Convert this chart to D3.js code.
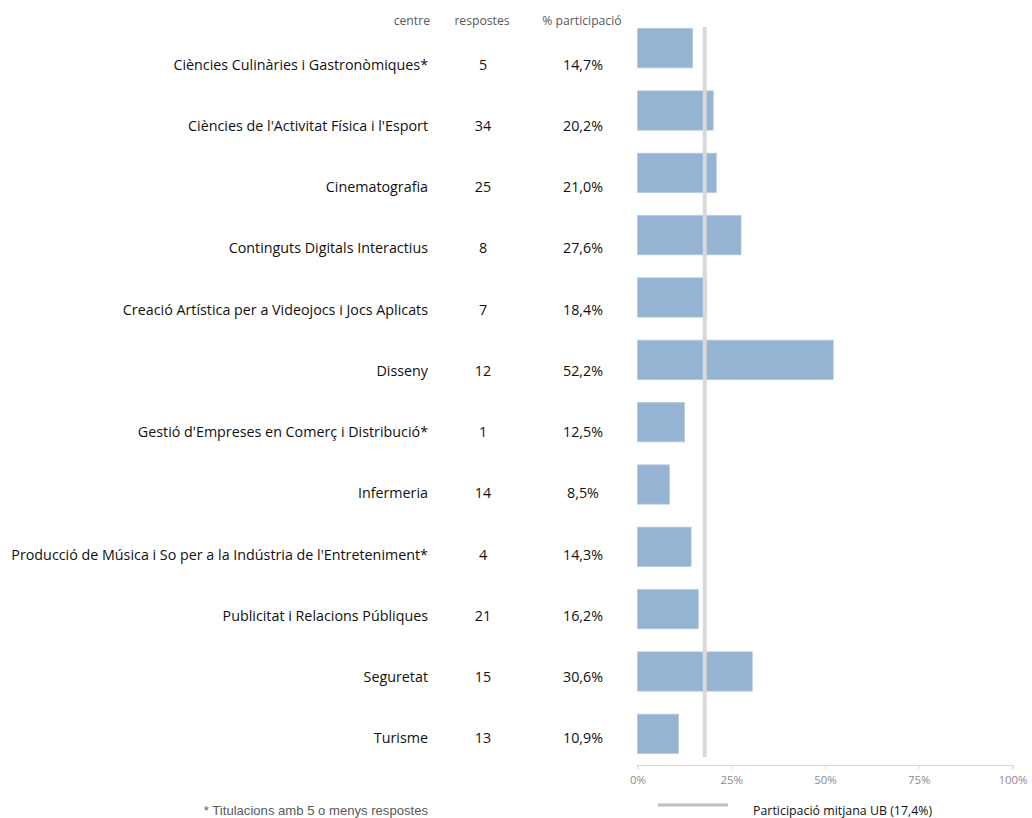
<!DOCTYPE html>
<html><head><meta charset="utf-8">
<script src="https://cdn.jsdelivr.net/npm/d3@7"></script>
<style>body{margin:0;background:#fff}svg{display:block}</style>
</head><body>
<svg id="c" width="1032" height="818"></svg>
<script>
const centres = [
  "Ciències Culinàries i Gastronòmiques*",
  "Ciències de l'Activitat Física i l'Esport",
  "Cinematografia",
  "Continguts Digitals Interactius",
  "Creació Artística per a Videojocs i Jocs Aplicats",
  "Disseny",
  "Gestió d'Empreses en Comerç i Distribució*",
  "Infermeria",
  "Producció de Música i So per a la Indústria de l'Entreteniment*",
  "Publicitat i Relacions Públiques",
  "Seguretat",
  "Turisme"
];
const respostes = [5, 34, 25, 8, 7, 12, 1, 14, 4, 21, 15, 13];
const participacio = [14.7, 20.2, 21.0, 27.6, 18.4, 52.2, 12.5, 8.5, 14.3, 16.2, 30.6, 10.9];
const mitjanaUB = 17.4;
const xTicks = [0, 25, 50, 75, 100];
const headers = ["centre", "respostes", "% participació"];
const legendLabel = "Participació mitjana UB (17,4%)";
const footnote = "* Titulacions amb 5 o menys respostes";

const fmt = v => v.toFixed(1).replace(".", ",") + "%";
const svg = d3.select("#c");
const font = "'Open Sans', 'Noto Sans', sans-serif";

const x = d3.scaleLinear().domain([0, 100]).range([637.5, 1012.5]);
const yBar = d3.scaleBand().domain(centres).range([17, 765]).paddingInner(0.37).paddingOuter(0.185);
const yRow = d3.scaleBand().domain(centres).range([34, 769]);

// bars
svg.append("g").selectAll("rect").data(centres).join("rect")
  .attr("x", x(0))
  .attr("y", d => yBar(d))
  .attr("width", (d, i) => x(participacio[i]) - x(0))
  .attr("height", yBar.bandwidth())
  .attr("fill", "#95b3d3")
  .attr("stroke", "#b4c8df").attr("stroke-width", 0.8);

// mean line
svg.append("line")
  .attr("x1", x(mitjanaUB) + 2).attr("x2", x(mitjanaUB) + 2)
  .attr("y1", 27).attr("y2", 757)
  .attr("stroke", "#d9d9d9").attr("stroke-width", 4);

// axis
const axis = d3.axisBottom(x).tickValues(xTicks).tickFormat(d => d + "%").tickSize(4).tickPadding(7);
const ag = svg.append("g").attr("transform", "translate(0,765)").call(axis);
ag.select(".domain").attr("stroke", "#d9d9d9");
ag.selectAll(".tick line").attr("stroke", "#d9d9d9");
ag.selectAll(".tick text").attr("fill", "#8c8c8c").style("font-family", font).style("font-size", "11.5px");

// headers
const hy = 25;
const hstyle = s => s.attr("fill", "#595959").style("font-family", font).style("font-size", "12.2px");
svg.append("text").attr("x", 430).attr("y", hy).attr("text-anchor", "end").text(headers[0]).call(hstyle);
svg.append("text").attr("x", 482).attr("y", hy).attr("text-anchor", "middle").text(headers[1]).call(hstyle);
svg.append("text").attr("x", 582).attr("y", hy).attr("text-anchor", "middle").text(headers[2]).call(hstyle);

// rows
const rows = svg.append("g").selectAll("g").data(centres).join("g")
  .attr("transform", d => `translate(0,${yRow(d) + yRow.bandwidth() / 2})`);
const tstyle = s => s.attr("fill", "#111").style("font-family", font).style("font-size", "14.3px").attr("dy", "0.35em");
rows.append("text").attr("x", 428).attr("text-anchor", "end").text(d => d).call(tstyle);
rows.append("text").attr("x", 483).attr("text-anchor", "middle").text((d, i) => respostes[i]).call(tstyle);
rows.append("text").attr("x", 583).attr("text-anchor", "middle").text((d, i) => fmt(participacio[i])).call(tstyle);

// legend
svg.append("line").attr("x1", 658).attr("x2", 728).attr("y1", 805).attr("y2", 805)
  .attr("stroke", "#bfbfbf").attr("stroke-width", 3);
svg.append("text").attr("x", 753).attr("y", 815).text(legendLabel)
  .attr("fill", "#111").style("font-family", font).style("font-size", "12.4px");

// footnote
svg.append("text").attr("x", 428).attr("y", 815).attr("text-anchor", "end").text(footnote)
  .attr("fill", "#595959").style("font-family", "'Liberation Sans', Arial, sans-serif").style("font-size", "13.1px");
</script>
</body></html>
